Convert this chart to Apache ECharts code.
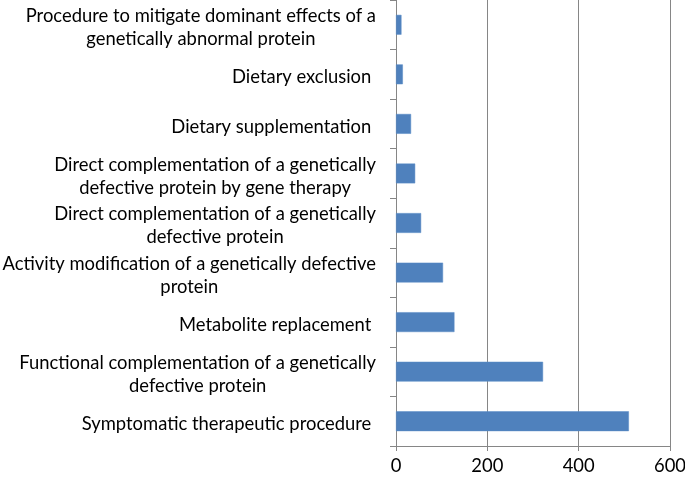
<!DOCTYPE html>
<html>
<head>
<meta charset="utf-8">
<script src="https://cdn.jsdelivr.net/npm/echarts@6/dist/echarts.min.js"></script>
<style>
html,body{margin:0;padding:0;background:#fff;}
#chart{width:685px;height:479px;}
</style>
</head>
<body>
<div id="chart"></div>
<script>
// Categories listed bottom to top
const categories = [
  "Symptomatic therapeutic procedure ",
  "Functional complementation of a genetically\ndefective protein",
  "Metabolite replacement ",
  "Activity modification of a genetically defective\nprotein",
  "Direct complementation of a genetically\ndefective protein",
  "Direct complementation of a genetically\ndefective protein by gene therapy",
  "Dietary supplementation ",
  "Dietary exclusion ",
  "Procedure to mitigate dominant effects of a\ngenetically abnormal protein"
];
const values = [510, 322, 128, 103, 55, 42, 33, 15, 12];
const xTicks = [0, 200, 400, 600];

const FONT = 'Lato';
const FS = 18.4;
const chart = echarts.init(document.getElementById('chart'), null, {renderer: 'canvas'});
chart.setOption({
  animation: false,
  grid: {left: 396, right: 15, top: 0, bottom: 33, containLabel: false, outerBoundsMode: 'none'},
  xAxis: {
    type: 'value',
    min: xTicks[0], max: xTicks[xTicks.length - 1], interval: 200,
    axisLine: {show: true, lineStyle: {color: '#868686', width: 1}},
    axisTick: {show: true, length: 5, lineStyle: {color: '#868686'}},
    splitLine: {show: true, lineStyle: {color: '#868686', width: 1}},
    axisLabel: {color: '#000', fontFamily: FONT, fontSize: FS, margin: 11}
  },
  yAxis: {
    type: 'category',
    data: categories,
    axisLine: {show: true, lineStyle: {color: '#868686', width: 1}},
    axisTick: {show: true, length: 6, alignWithLabel: false, lineStyle: {color: '#868686'}},
    splitLine: {show: false},
    axisLabel: {
      color: '#000', fontFamily: FONT, fontSize: FS, margin: 20, align: 'right',
      lineHeight: 23, padding: [6, 0, 0, 0],
      formatter: function (v) { return '{c|' + v + '}'; },
      rich: {c: {align: 'center', fontFamily: FONT, fontSize: FS, lineHeight: 23, color: '#000'}}
    }
  },
  series: [{
    type: 'bar',
    data: values,
    barCategoryGap: '60%',
    itemStyle: {color: '#4F81BD', borderColor: '#5b8cc6', borderWidth: 0.5}
  }]
});
</script>
</body>
</html>
